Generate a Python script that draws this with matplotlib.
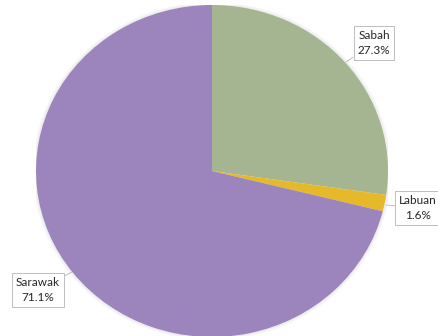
import matplotlib.pyplot as plt
from matplotlib.patches import Ellipse

# Share by region
regions = ["Sabah", "Labuan", "Sarawak"]
shares = [27.3, 1.6, 71.1]
colors = ["#A5B592", "#E6B92A", "#9B85BC"]

plt.rcParams["font.family"] = ["Lato", "DejaVu Sans"]

fig = plt.figure(figsize=(4.39, 3.36), dpi=100)
# pie is slightly wider than tall, so the axes box is sized in pixels
W, H = 439, 336
cx, cy = 212, 165
rx, ry = 176, 166
ax = fig.add_axes([(cx - rx) / W, (cy - ry) / H, 2 * rx / W, 2 * ry / H])

# soft shadow round the rim
for k in range(1, 5):
    ax.add_patch(Ellipse((0, 0), 2 + k * 0.01, 2 + k * 0.01, facecolor="#808080",
                         alpha=0.035, edgecolor="none", zorder=0))

wedges, _ = ax.pie(shares, colors=colors, startangle=90, counterclock=False,
                   radius=1.0, wedgeprops=dict(edgecolor="none"))
ax.set_aspect("auto")
ax.set_xlim(-1, 1)
ax.set_ylim(-1, 1)
ax.axis("off")


def to_data(px, py):
    return (px - 212) / rx, (171 - py) / ry


# label box centre and pointer tip, in pixels
label_pos = {"Sabah": ((374, 43), (346, 62)),
             "Labuan": ((418, 208), (386, 205)),
             "Sarawak": ((38, 290), (72, 272))}

for name, val in zip(regions, shares):
    (bx, by), (tx, ty) = label_pos[name]
    ax.annotate(f"{name}\n{val}%", xy=to_data(tx, ty), xytext=to_data(bx, by),
                ha="center", va="center", fontsize=8.5, color="#262626",
                linespacing=1.35, annotation_clip=False,
                bbox=dict(boxstyle="square,pad=0.35", facecolor="white",
                          edgecolor="#BFBFBF", lw=0.7),
                arrowprops=dict(arrowstyle="-", color="#BFBFBF", lw=0.7,
                                shrinkA=0, shrinkB=0))

fig.savefig("out.png", dpi=100)
